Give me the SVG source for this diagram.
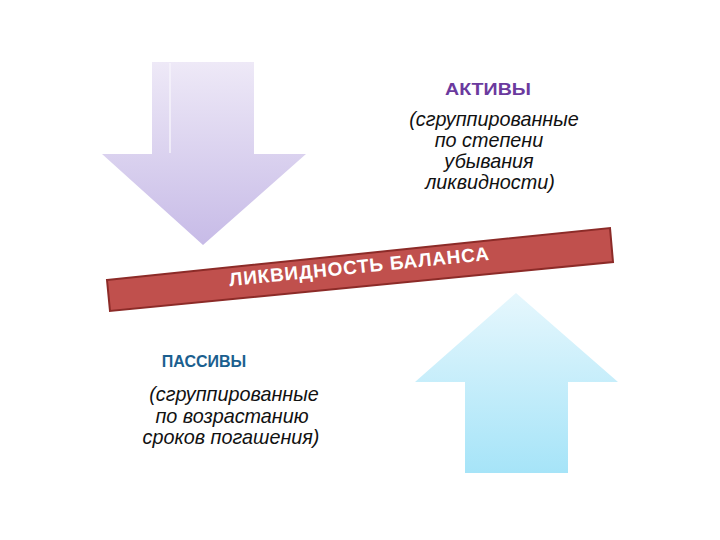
<svg xmlns="http://www.w3.org/2000/svg" width="720" height="540" viewBox="0 0 720 540">
<defs>
<linearGradient id="gDown" x1="0" y1="0" x2="0" y2="1">
<stop offset="0" stop-color="#eee9f7"/>
<stop offset="1" stop-color="#c7bbe7"/>
</linearGradient>
<linearGradient id="gUp" x1="0" y1="0" x2="0" y2="1">
<stop offset="0" stop-color="#e6f7fd"/>
<stop offset="1" stop-color="#a6e4f8"/>
</linearGradient>
<style>
.h{font-family:"Liberation Sans",Arial,sans-serif;font-weight:bold;font-size:16px;text-anchor:middle}
.b{font-family:"Liberation Sans",Arial,sans-serif;font-weight:bold;font-size:19px;letter-spacing:0.8px;text-anchor:middle;fill:#fff}
.t{font-family:"Liberation Sans",Arial,sans-serif;font-style:italic;font-size:19.8px;fill:#111;text-anchor:middle}
</style>
</defs>
<rect width="720" height="540" fill="#fff"/>
<g id="down-arrow">
<polygon points="152,62 254,62 254,154 306,154 203,245 102,154 152,154" fill="url(#gDown)"/>
<line x1="170" y1="63" x2="170" y2="153" stroke="#f6f3fb" stroke-width="1.5"/>
</g>
<g id="up-arrow">
<polygon points="516,293 618,382 568,382 568,473 465,473 465,382 415,382" fill="url(#gUp)"/>
</g>
<g id="band">
<polygon points="107,280 610,228 613,262 110,311" fill="#c0504d" stroke="#8c2b28" stroke-width="2"/>
<text class="b" x="0" y="0" transform="translate(360,273) rotate(-5.8)">ЛИКВИДНОСТЬ БАЛАНСА</text>
</g>
<g id="assets">
<text class="h" x="488" y="95" fill="#6b3a9e" style="font-size:17px" textLength="86" lengthAdjust="spacingAndGlyphs">АКТИВЫ</text>
<text class="t" x="494" y="126">(сгруппированные</text>
<text class="t" x="489" y="147">по степени</text>
<text class="t" x="489" y="168">убывания</text>
<text class="t" x="490" y="189">ликвидности)</text>
</g>
<g id="liabilities">
<text class="h" x="204" y="367" fill="#1b5f8f">ПАССИВЫ</text>
<text class="t" x="234" y="401">(сгруппированные</text>
<text class="t" x="232" y="423">по возрастанию</text>
<text class="t" x="231" y="444">сроков погашения)</text>
</g>
<g id="connectors"/>
</svg>
